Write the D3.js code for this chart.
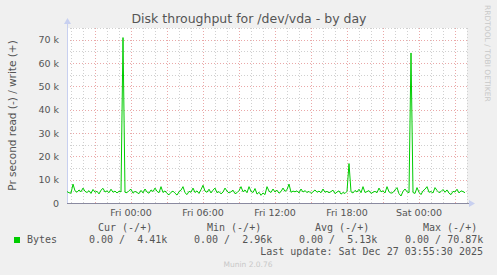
<!DOCTYPE html>
<html>
<head>
<meta charset="utf-8">
<script src="https://cdn.jsdelivr.net/npm/d3@7"></script>
<style>
  body { margin: 0; background: #f0f0f0; }
  text { font-family: "DejaVu Sans", sans-serif; }
  .mono { font-family: "DejaVu Sans Mono", monospace; white-space: pre; }
</style>
</head>
<body>
<div id="chart"></div>
<script>
// Data: write throughput (k bytes/s), one sample every 10 minutes from Thu 18:40
const startTime = Date.UTC(2025, 11, 25, 18, 40);
const stepMinutes = 10;
const writeValues = [
  4.9, 4.4, 4.2, 8.1, 5.2, 4.6, 5.6, 4.8, 6.4, 5.0,
  4.5, 5.3, 4.1, 5.8, 4.6, 5.0, 3.9, 5.5, 6.3, 4.7,
  5.2, 4.4, 5.9, 4.6, 5.1, 4.3, 5.0, 4.8, 70.9, 4.6,
  4.4, 5.3, 5.9, 4.2, 5.0, 4.5, 4.0, 5.4, 4.3, 6.0,
  4.7, 4.2, 5.6, 4.9, 6.4, 5.0, 4.4, 7.0, 4.5, 5.2,
  4.1, 3.5, 4.6, 5.1, 4.2, 3.4, 4.8, 5.5, 7.0, 4.4,
  3.6, 5.0, 4.6, 6.4, 4.5, 5.2, 4.1, 5.7, 7.6, 5.1,
  4.6, 5.9, 4.3, 5.5, 6.4, 4.4, 4.9, 3.9, 4.7, 6.4,
  5.1, 4.3, 4.8, 5.5, 4.0, 4.4, 5.3, 7.0, 4.8, 5.6,
  4.4, 7.0, 5.0, 4.5, 6.2, 3.8, 4.6, 3.3, 4.3, 3.6,
  7.0, 5.1, 4.5, 6.0, 4.7, 5.5, 4.2, 4.9, 6.4, 5.0,
  5.7, 8.1, 4.6, 5.1, 4.8, 5.2, 4.3, 6.0, 4.7, 5.3,
  4.5, 5.0, 4.1, 4.8, 5.6, 4.6, 5.1, 4.4, 6.0, 4.6,
  5.0, 4.4, 4.9, 5.5, 4.0, 4.7, 5.2, 3.8, 4.5, 4.1,
  5.0, 16.9, 4.8, 4.3, 5.4, 4.7, 5.9, 4.4, 7.0, 4.5,
  4.9, 5.3, 4.1, 4.6, 5.0, 4.4, 6.4, 4.8, 5.2, 4.3,
  7.0, 4.8, 4.2, 4.5, 5.6, 6.6, 4.0, 3.0, 5.0, 6.0,
  4.8, 4.4, 64.3, 4.5, 4.1, 6.6, 4.6, 3.6, 5.2, 5.9,
  7.0, 4.6, 4.9, 4.3, 6.6, 5.4, 4.4, 4.9, 5.8, 4.6,
  5.6, 4.2, 3.6, 5.0, 4.7, 5.9, 4.3, 5.2, 4.9, 4.4
];
const yLabelTicks = [0, 10000, 20000, 30000, 40000, 50000, 60000, 70000];
const legendHeaders = ["Cur (-/+)", "Min (-/+)", "Avg (-/+)", "Max (-/+)"];
const legendValues = ["0.00 /  4.41k", "0.00 /  2.96k", "0.00 /  5.13k", "0.00 / 70.87k"];
const seriesName = "Bytes";
const lastUpdate = "Last update: Sat Dec 27 03:55:30 2025";

// Dimensions
const dims = {width: 497, height: 275};
const plot = {left: 67, right: 467, top: 28, bottom: 203};

// SVG
const svg = d3.select('#chart')
  .append('svg')
  .attr('width', dims.width)
  .attr('height', dims.height);

svg.append('rect')
  .attr('width', dims.width)
  .attr('height', dims.height)
  .attr('fill', '#f0f0f0');

// Scales
const endTime = startTime + writeValues.length * stepMinutes * 60000;
const x = d3.scaleUtc()
  .domain([new Date(startTime), new Date(endTime)])
  .range([plot.left, plot.right]);
const y = d3.scaleLinear()
  .domain([0, 75000])
  .range([plot.bottom, plot.top]);

const data = writeValues.map((v, i) => ({
  t: new Date(startTime + i * stepMinutes * 60000),
  v: v * 1000
}));

// Plot background
svg.append('rect')
  .attr('x', plot.left)
  .attr('y', plot.top)
  .attr('width', plot.right - plot.left)
  .attr('height', plot.bottom - plot.top)
  .attr('fill', '#ffffff');

// Grid
const grid = svg.append('g').attr('class', 'grid');

// minor vertical (every hour)
grid.selectAll('line.vminor')
  .data(x.ticks(d3.utcHour.every(1)))
  .enter().append('line')
    .attr('x1', d => Math.round(x(d)) + 0.5)
    .attr('x2', d => Math.round(x(d)) + 0.5)
    .attr('y1', plot.top)
    .attr('y2', plot.bottom)
    .attr('stroke', '#d0d0d0')
    .attr('stroke-dasharray', '1,2');

// minor horizontal (every 5k)
grid.selectAll('line.hminor')
  .data(d3.range(5000, 75001, 10000))
  .enter().append('line')
    .attr('x1', plot.left)
    .attr('x2', plot.right)
    .attr('y1', d => Math.round(y(d)) + 0.5)
    .attr('y2', d => Math.round(y(d)) + 0.5)
    .attr('stroke', '#d0d0d0')
    .attr('stroke-dasharray', '1,2');

// major vertical (every 3 hours)
grid.selectAll('line.vmajor')
  .data(x.ticks(d3.utcHour.every(3)))
  .enter().append('line')
    .attr('x1', d => Math.round(x(d)) + 0.5)
    .attr('x2', d => Math.round(x(d)) + 0.5)
    .attr('y1', plot.top)
    .attr('y2', plot.bottom)
    .attr('stroke', '#eaa8a8')
    .attr('stroke-dasharray', '1,2');

// major horizontal (every 10k)
grid.selectAll('line.hmajor')
  .data(yLabelTicks.slice(1))
  .enter().append('line')
    .attr('x1', plot.left)
    .attr('x2', plot.right)
    .attr('y1', d => Math.round(y(d)) + 0.5)
    .attr('y2', d => Math.round(y(d)) + 0.5)
    .attr('stroke', '#eaa8a8')
    .attr('stroke-dasharray', '1,2');

// Axes lines and arrows
svg.append('line')
  .attr('x1', plot.left + 0.5).attr('x2', plot.left + 0.5)
  .attr('y1', plot.bottom).attr('y2', plot.top - 5)
  .attr('stroke', '#c8d0f0');
svg.append('path')
  .attr('d', `M${plot.left - 3},${plot.top - 4} L${plot.left + 4},${plot.top - 4} L${plot.left + 0.5},${plot.top - 10} Z`)
  .attr('fill', '#c8d0f0');
svg.append('line')
  .attr('x1', plot.left).attr('x2', plot.right + 3)
  .attr('y1', plot.bottom + 0.5).attr('y2', plot.bottom + 0.5)
  .attr('stroke', '#8a8aa0');
svg.append('path')
  .attr('d', `M${plot.right + 2},${plot.bottom - 3} L${plot.right + 2},${plot.bottom + 4} L${plot.right + 8},${plot.bottom + 0.5} Z`)
  .attr('fill', '#c8d0f0');

// Y tick labels
svg.append('g').selectAll('text')
  .data(yLabelTicks)
  .enter().append('text')
    .attr('x', 59)
    .attr('y', d => y(d) + 3.5)
    .attr('text-anchor', 'end')
    .attr('font-size', '9.5px')
    .attr('fill', '#555')
    .text(d => d === 0 ? '0' : `${d / 1000} k`);

// X tick labels
svg.append('g').selectAll('text')
  .data(x.ticks(d3.utcHour.every(6)))
  .enter().append('text')
    .attr('x', d => x(d))
    .attr('y', 216)
    .attr('text-anchor', 'middle')
    .attr('font-size', '9.5px')
    .attr('fill', '#555')
    .text(d => d3.utcFormat('%a %H:%M')(d));

// Line
const line = d3.line()
  .x(d => x(d.t))
  .y(d => y(d.v));

svg.append('path')
  .datum(data)
  .attr('d', line)
  .attr('fill', 'none')
  .attr('stroke', '#00cc00')
  .attr('stroke-width', 1);

// Title
svg.append('text')
  .attr('x', 249)
  .attr('y', 23)
  .attr('text-anchor', 'middle')
  .attr('font-size', '12.5px')
  .attr('fill', '#555')
  .text('Disk throughput for /dev/vda - by day');

// Y axis label
svg.append('text')
  .attr('transform', `translate(16, ${(plot.top + plot.bottom) / 2}) rotate(-90)`)
  .attr('text-anchor', 'middle')
  .attr('font-size', '10.5px')
  .attr('fill', '#555')
  .text('Pr second read (-) / write (+)');

// Side label
svg.append('text')
  .attr('transform', 'translate(485, 5) rotate(90)')
  .attr('font-size', '7.5px')
  .attr('fill', '#c8c8c8')
  .text('RRDTOOL / TOBI OETIKER');

// Legend
const legend = svg.append('g').attr('class', 'legend');
const headerX = [98, 207, 315, 423];
const valueX = [89, 194, 299, 405];

legend.selectAll('text.hdr')
  .data(legendHeaders)
  .enter().append('text')
    .attr('class', 'mono')
    .attr('x', (d, i) => headerX[i])
    .attr('y', 231)
    .attr('font-size', '10px')
    .attr('fill', '#555')
    .text(d => d);

legend.append('rect')
  .attr('x', 14).attr('y', 237)
  .attr('width', 6).attr('height', 6)
  .attr('fill', '#00cc00');

legend.append('text')
  .attr('class', 'mono')
  .attr('x', 27).attr('y', 243)
  .attr('font-size', '10px')
  .attr('fill', '#555')
  .text(seriesName);

legend.selectAll('text.val')
  .data(legendValues)
  .enter().append('text')
    .attr('class', 'mono')
    .attr('x', (d, i) => valueX[i])
    .attr('y', 243)
    .attr('font-size', '10px')
    .attr('fill', '#555')
    .text(d => d);

legend.append('text')
  .attr('class', 'mono')
  .attr('x', 483).attr('y', 255)
  .attr('text-anchor', 'end')
  .attr('font-size', '10px')
  .attr('fill', '#555')
  .text(lastUpdate);

// Footer
svg.append('text')
  .attr('x', 248).attr('y', 267)
  .attr('text-anchor', 'middle')
  .attr('font-size', '7.5px')
  .attr('fill', '#c8c8c8')
  .text('Munin 2.0.76');
</script>
</body>
</html>
